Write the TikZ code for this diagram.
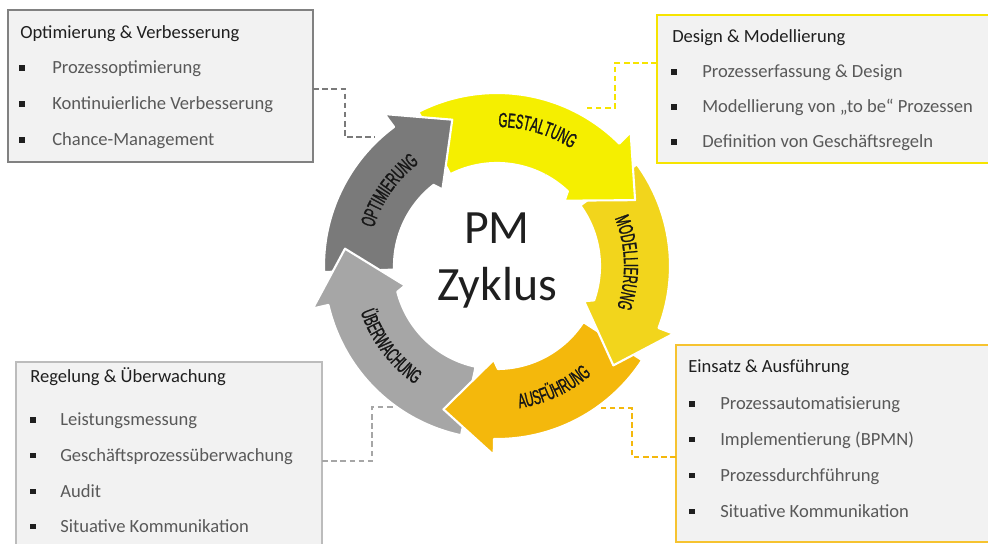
\documentclass[tikz,border=0pt]{standalone}
\usepackage{fontspec}
\setmainfont{Carlito}
\newfontfamily\bannerfont[FakeStretch=0.56,FakeBold=1.2]{Liberation Sans}
\usetikzlibrary{calc,decorations.text}

\definecolor{gestYellow}{HTML}{F5EF00}
\definecolor{modYellow}{HTML}{F2D51C}
\definecolor{ausOrange}{HTML}{F4B80C}
\definecolor{uebGray}{HTML}{A6A6A6}
\definecolor{optGray}{HTML}{7A7A7A}
\definecolor{boxFill}{HTML}{F2F2F2}
\definecolor{titleInk}{HTML}{1F1F1F}
\definecolor{itemInk}{HTML}{595959}
\definecolor{labelInk}{HTML}{161616}

% one arrow of the ring: tail angle, head angle, colour
\newcommand{\cyclearrow}[3]{
  \filldraw[fill=#3,draw=white,line width=1.5pt,line join=round]
    (#1:173) arc[start angle=#1,end angle=#2,radius=173]
    -- (#2:189) -- ({#2-19.5}:153) -- ({#2-1}:94) -- ({#2+1.5}:103)
    arc[start angle={#2+1.5},end angle=#1,radius=103] -- cycle;}

\tikzset{
  infobox/.style={fill=boxFill,inner sep=0pt,outer sep=0pt,anchor=north west},
  boxtitle/.style={anchor=base west,inner sep=0pt,text=titleInk,font=\fontsize{13.2}{15}\selectfont},
  boxitem/.style={anchor=base west,inner sep=0pt,text=itemInk,font=\fontsize{13.2}{15}\selectfont},
  bul/.style={fill=titleInk,inner sep=0pt,minimum size=3.6pt},
  link/.style={dash pattern=on 4pt off 2.5pt,line width=1.5pt},
  banner/.style={decorate,decoration={text along path,text align=center,text color=labelInk,
      text={|\bannerfont\fontsize{14.5}{14.5}\selectfont|#1}}},
  centre/.style={anchor=base,inner sep=0pt,text=titleInk,font=\fontsize{34}{34}\selectfont}
}

\begin{document}
\begin{tikzpicture}[x=0.025cm,y=0.025cm]
\useasboundingbox (0,0) rectangle (988,-544);
\clip (0,0) rectangle (988,-544);

%RING
\begin{scope}[shift={(497,-266)}]
  \cyclearrow{117}{45}{gestYellow}
  \cyclearrow{182}{126.5}{optGray}
  \cyclearrow{-102}{-167}{uebGray}
  \cyclearrow{-33}{-91}{ausOrange}
  \cyclearrow{36}{-21}{modYellow}
  % head of GESTALTUNG lies over MODELLIERUNG
  \begin{scope}
    \clip (0,0) -- (62:260) -- (0:260) -- cycle;
    \cyclearrow{117}{45}{gestYellow}
  \end{scope}

  \path[banner=GESTALTUNG] (97:139) arc[start angle=97,end angle=50,radius=139];
  \path[banner=MODELLIERUNG] (26:127) arc[start angle=26,end angle=-23,radius=127];
  \path[banner=AUSFÜHRUNG] (-90:144) arc[start angle=-90,end angle=-40,radius=144];
  \path[banner=ÜBERWACHUNG] (192:144) arc[start angle=192,end angle=242,radius=144];
  \path[banner=OPTIMIERUNG] (172:129) arc[start angle=172,end angle=118,radius=129];

  \coordinate (optEnd) at (133.4:177);
  \coordinate (desEnd) at ($(587,-108)-(497,-266)$);
  \coordinate (regEnd) at ($(395,-407)-(497,-266)$);
  \coordinate (einEnd) at ($(600,-408)-(497,-266)$);
\end{scope}

\node[centre] (pm) at (497,-244) {PM};
\node[centre] (zyk) at (497,-301) {Zyklus};

%BOXES
\node[infobox,draw=optGray!95,line width=2pt,minimum width=7.625cm,minimum height=3.8cm] (opt) at (8,-10) {};
\node[infobox,draw=gestYellow!90!orange,line width=2pt,minimum width=8.475cm,minimum height=3.7cm] (des) at (657,-15) {};
\node[infobox,draw=uebGray!75,line width=1.6pt,minimum width=7.65cm,minimum height=4.95cm] (reg) at (16,-362) {};
\node[infobox,draw=ausOrange!85,line width=1.6pt,minimum width=8cm,minimum height=4.925cm] (ein) at (676,-345) {};

\node[boxtitle] (opt-t) at (20,-39) {Optimierung \& Verbesserung};
\foreach \txt [count=\i] in {Prozessoptimierung,Kontinuierliche Verbesserung,Chance-Management}{
  \node[bul] (opt-b\i) at (22,{-68-36*(\i-1)}) {};
  \node[boxitem] (opt-i\i) at (52,{-74-36*(\i-1)}) {\txt};
}

\node[boxtitle] (des-t) at (672,-43) {Design \& Modellierung};
\foreach \txt [count=\i] in {Prozesserfassung \& Design,Modellierung von „to be“ Prozessen,Definition von Geschäftsregeln}{
  \node[bul] (des-b\i) at (674,{-72-35*(\i-1)}) {};
  \node[boxitem] (des-i\i) at (702,{-78-35*(\i-1)}) {\txt};
}

\node[boxtitle] (reg-t) at (30,-383) {Regelung \& Überwachung};
\foreach \txt [count=\i] in {Leistungsmessung,Geschäftsprozessüberwachung,Audit,Situative Kommunikation}{
  \node[bul] (reg-b\i) at (33,{-420-35.6*(\i-1)}) {};
  \node[boxitem] (reg-i\i) at (60,{-426-35.6*(\i-1)}) {\txt};
}

\node[boxtitle] (ein-t) at (688,-373) {Einsatz \& Ausführung};
\foreach \txt [count=\i] in {Prozessautomatisierung,Implementierung (BPMN),Prozessdurchführung,Situative Kommunikation}{
  \node[bul] (ein-b\i) at (692,{-404-35.7*(\i-1)}) {};
  \node[boxitem] (ein-i\i) at (720,{-410-35.7*(\i-1)}) {\txt};
}

%CONNECTORS
\draw[link,optGray] ($(opt.east)+(0,-3)$) -- ++(32,0) |- (optEnd);
\draw[link,gestYellow!90!orange] ($(des.west)+(0,26)$) -- ++(-42,0) |- (desEnd);
\draw[link,uebGray] (reg.east) -- ++(50,0) |- (regEnd);
\draw[link,ausOrange] ($(ein.west)+(0,-13.5)$) -- ++(-44,0) |- (einEnd);
\end{tikzpicture}
\end{document}
